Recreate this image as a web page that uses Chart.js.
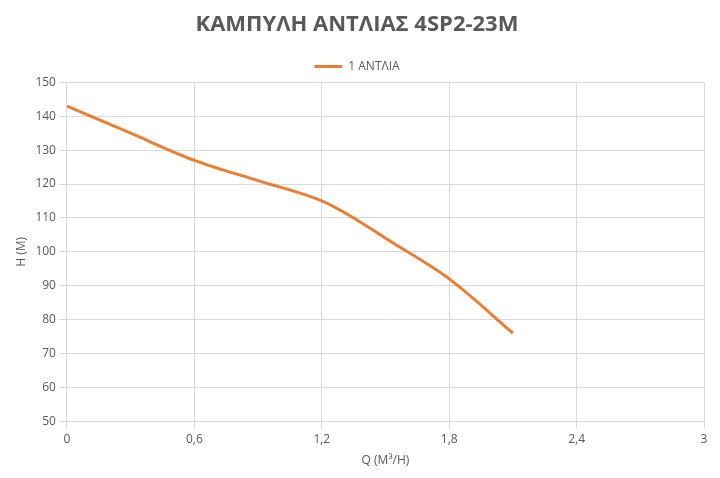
<!DOCTYPE html>
<html>
<head>
<meta charset="utf-8">
<script src="https://cdn.jsdelivr.net/npm/chart.js@4"></script>
<style>
  html, body { margin: 0; padding: 0; background: #fff; }
</style>
</head>
<body>
<canvas id="pump-chart" width="720" height="478"></canvas>
<script>
const flowValues = [0, 0.3, 0.6, 0.9, 1.2, 1.35, 1.5, 1.8, 2.1];
const headValues = [143, 135, 127, 121, 115, 110, 104, 92, 76];
const seriesName = "1 ΑΝΤΛΙΑ";
const xTicks = [0, 0.6, 1.2, 1.8, 2.4, 3];

const ctx = document.getElementById("pump-chart").getContext("2d");
new Chart(ctx, {
  type: "line",
  data: {
    datasets: [
      {
        label: seriesName,
        data: flowValues.map((q, i) => ({ x: q, y: headValues[i] })),
        borderColor: "#ED7D31",
        backgroundColor: "#ED7D31",
        borderWidth: 3,
        pointRadius: 0,
        cubicInterpolationMode: "monotone",
      },
    ],
  },
  options: {
    responsive: false,
    animation: false,
    layout: { padding: { left: 10, right: 16, top: 8, bottom: 6 } },
    plugins: {
      title: {
        display: true,
        text: "ΚΑΜΠΥΛΗ ΑΝΤΛΙΑΣ 4SP2-23M",
        color: "#595959",
        font: { family: "Open Sans", size: 22, weight: "bold" },
        padding: { top: 4, bottom: 12 },
      },
      legend: {
        labels: {
          color: "#595959",
          font: { family: "Open Sans", size: 12 },
          boxWidth: 28,
          boxHeight: 0,
        },
      },
    },
    scales: {
      x: {
        type: "linear",
        min: 0,
        max: 3,
        afterBuildTicks: (axis) => { axis.ticks = xTicks.map((v) => ({ value: v })); },
        ticks: {
          color: "#595959",
          font: { family: "Open Sans", size: 12 },
          callback: (v) => String(v).replace(".", ","),
        },
        grid: { color: "#d9d9d9" },
        border: { color: "#d9d9d9" },
        title: { display: true, text: "Q (M³/H)", color: "#595959", font: { family: "Open Sans", size: 12 } },
      },
      y: {
        min: 50,
        max: 150,
        ticks: { stepSize: 10, color: "#595959", font: { family: "Open Sans", size: 12 } },
        grid: { color: "#d9d9d9" },
        border: { color: "#d9d9d9" },
        title: { display: true, text: "H (M)", color: "#595959", font: { family: "Open Sans", size: 12 } },
      },
    },
  },
});
</script>
</body>
</html>
